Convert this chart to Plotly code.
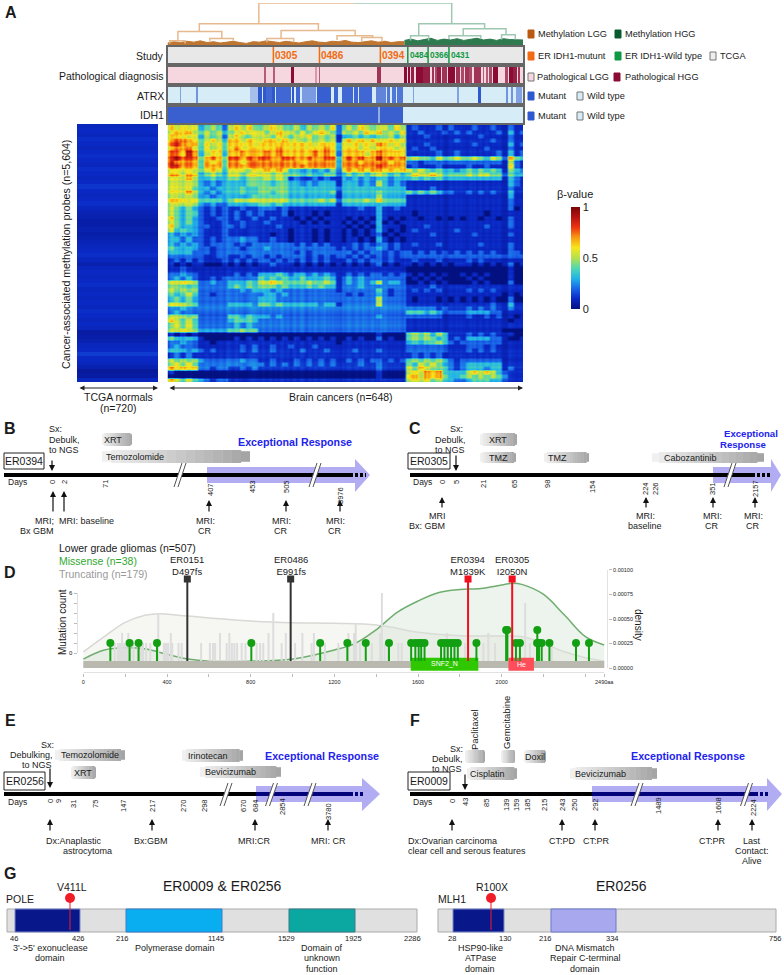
import numpy as np
import plotly.graph_objects as go

W, H = 784, 975
FONT = "Liberation Sans"

# ---------------- DATA ----------------
# Panel A heat map: beta value tenths per block.
brain_rows = """
65656 3 454 2 56564 45654 45354546 2 454654 5 5465 1211121 211 121121 1 2 11
56665 4 545 3 45655 54565 54545654 2 545465 6 4546 1121112 121 211112 1 3 12
66656 3 545 2 56545 55465 45564545 1 334343 4 4535 1112111 111 112111 1 2 11
67766 4 565 3 66565 56656 55454545 1 565656 5 5656 1111111 121 111121 1 2 11
78767 4 656 4 66665 66666 66665666 3 656565 7 6565 1112111 111 121111 1 3 12
67776 4 656 4 67666 66676 66666676 3 666565 6 6656 1211211 111 111211 1 2 11
77687 3 566 3 66766 67676 66667676 2 666656 7 6666 1111121 121 111112 1 3 12
78777 4 676 4 77676 77667 76676677 3 676766 8 6767 4544354 454 454354 2 6 43
87777 4 767 4 77677 77777 77677777 3 777677 7 7677 2212222 222 222222 1 5 21
88777 4 777 4 77777 77777 77777777 3 777777 8 7777 1211121 111 211211 1 6 21
55555 4 565 3 55545 56565 33232324 2 565656 6 5656 5454343 323 434343 1 4 32
66566 3 454 3 55455 55454 44343344 2 343434 5 4343 4655654 444 545544 2 4 33
55565 3 343 3 44344 45454 12112121 1 323232 3 3233 3434343 333 333333 1 3 21
55555 3 232 3 33344 44344 33232333 1 333232 5 3232 1111111 111 111111 1 3 21
55554 3 323 3 33433 44444 33333333 2 333333 3 3333 1111211 111 111111 1 2 11
55565 3 232 3 33433 44344 33333334 1 333333 4 3333 4343432 211 212121 1 3 11
55555 3 323 3 33334 44444 33333333 1 333333 5 3333 1111111 111 111111 1 3 11
66656 4 444 3 45555 55555 44444545 2 444454 6 4444 1111111 111 111111 1 2 11
55555 3 232 2 33333 44343 33333333 1 333333 3 3333 1111111 111 111111 1 2 11
54343 2 121 2 11211 22212 11111111 1 111211 3 1121 1111111 111 111111 1 2 01
54344 2 121 2 12121 21112 01110101 1 111111 3 1111 1011111 111 111011 1 1 11
64343 2 112 2 12112 11211 10101011 1 101010 3 1010 1101101 010 110110 1 2 11
54343 2 111 2 11211 12111 11010101 1 010101 3 0101 1111111 111 111111 1 2 11
64333 2 211 2 21211 11121 11111111 1 101010 3 1110 1112111 111 111211 1 2 11
53433 2 111 2 11111 11111 01110101 1 010101 3 1010 1211111 121 111111 1 1 11
32323 2 111 2 11111 11011 01110101 1 010101 2 0101 1111211 111 121111 1 2 11
33232 2 121 2 22322 11211 01110101 1 011010 3 1010 1111111 111 111111 1 1 11
32323 2 122 2 21212 22222 21212121 1 112121 2 2121 1211121 111 112111 1 2 11
43333 2 212 2 22122 23222 22222222 1 212122 3 2121 1111111 111 111111 1 2 11
33332 2 212 2 22222 22222 21212222 2 221212 2 1212 2121212 121 212121 1 2 21
22222 2 112 2 11212 21212 22212121 2 212121 2 1212 2222222 222 222222 2 2 22
12121 2 111 2 12121 22121 21212121 1 121212 2 1211 1211121 111 212111 1 1 11
10101 1 000 1 01010 11211 10101010 1 010101 2 0101 1010101 011 101010 1 2 01
11211 1 111 1 11111 11111 11111111 1 111111 1 1111 0000000 000 000000 0 1 00
22322 1 111 1 12121 33343 23323232 1 121212 2 1212 1010101 001 010100 0 1 00
23232 1 121 2 22222 43434 33433343 1 232322 2 2222 0101010 000 101000 0 1 00
55655 2 232 2 33343 55654 44454454 1 232323 5 2332 0010101 000 010100 0 2 00
44434 2 222 2 34343 44434 33343433 1 222322 2 2222 1111211 111 111111 1 1 11
54545 2 222 2 22323 33232 22222222 1 222222 4 2122 1212121 111 212121 1 1 11
43454 2 212 2 22222 23323 22222222 2 212122 3 2122 1111111 111 111111 0 1 01
34343 2 222 2 22222 33322 22222222 2 222222 5 2222 1011101 010 101010 0 2 00
55544 2 222 2 33332 44343 33333233 1 222222 5 2222 1111111 111 111121 1 3 11
22322 2 222 2 22222 22222 22222222 2 222222 2 2222 2222212 111 212121 1 2 11
23222 2 222 2 22222 22222 22222222 2 222222 2 2222 4443432 222 333322 1 1 11
55545 2 222 2 44343 33232 22222222 2 222222 3 2222 2222221 111 211212 1 1 01
65454 2 222 2 34443 22222 22222222 2 222222 2 2222 1111111 111 111111 1 0 11
45454 2 222 2 23232 22222 22222222 2 222222 2 2222 1111111 111 111111 1 1 11
55655 3 333 3 44544 22222 22222222 2 222222 2 2222 1111111 111 111111 0 0 00
10101 0 000 0 00000 00000 00000000 0 000000 1 0000 4545354 111 212121 1 1 00
43333 1 000 0 01010 10101 01010101 0 010100 2 0100 4545434 121 333322 1 0 01
22322 1 101 1 11111 11111 11111111 0 111111 1 1111 3434454 212 222222 1 1 11
23222 1 111 1 11212 11211 21112111 1 111111 1 1111 2222222 111 222121 1 1 11
33323 2 121 1 11212 11211 11211121 1 112111 2 1111 2222222 111 212121 1 1 11
12121 1 111 1 11111 11111 11111111 1 111111 1 1111 1212121 111 111111 1 1 11
54545 3 222 2 22322 11211 12121212 1 121212 2 1212 4545454 212 222222 1 1 11
45454 2 222 2 22222 21212 12121212 1 111211 2 1111 4354543 212 333333 1 1 11
65656 2 212 2 11212 11111 11111111 1 111111 2 1111 5465444 212 333233 1 2 11
10000 0 000 0 00000 00000 00000000 0 000000 1 0000 5657674 333 565653 2 1 11
00000 0 000 0 00000 00000 00000000 0 000000 1 0000 6757675 334 545454 3 1 11
65454 3 212 2 11111 11111 11111111 1 111111 1 1111 5656454 322 344433 2 1 11
"""
col_streaks = ("14434" "23134" "34212" "22123" "21321" "23214" "43234" "23212" "34443" "32432" "34233" "24423"
               "31342" "24421" "33243" "23342" "32322" "21323" "43234" "32433" "23423" "24343" "23232" "32132"
               "232123223123232132" "00" "2322323221232312" "31" "232132232" "000" "332" "21222")
row_streaks = ("1222321232" "2123224312" "2143142312" "2324211222" "1221212122" "2122121212"
               "2212221123" "1102122122" "2321212212" "3432102122" "3212312212" "1123232123" "342322231")
normal_rows = [.09, .1, .09, .11, .1, .09, .1, .11, .1, .09, .11, .1, .09, .1, .12, .1, .09, .1, .11, .09,
               .08, .07, .06, .06, .07, .06, .07, .08, .09, .1, .11, .09, .07, .09, .1, .09, .1, .11, .09, .1,
               .09, .1, .09, .11, .1, .09, .1, .09, .05, .06, .07, .09, .1, .13, .1, .09, .07, .04, .05, .09]

# samples (0-648): annotation tracks as (first, last, level)
path_runs = [(175, 178, .6), (192, 194, .6), (225, 229, 1), (269, 271, .3), (275, 277, .6), (382, 388, .8),
             (431, 435, 1), (437, 441, 1), (444, 448, .9), (453, 464, 1), (465, 476, .9), (481, 484, .8),
             (487, 490, .7), (491, 496, .9), (499, 507, .8), (510, 522, 1), (525, 531, .8), (534, 538, .7),
             (541, 547, .8), (549, 553, .7), (557, 570, .8), (574, 576, .6), (580, 582, .6), (586, 590, .7),
             (593, 601, 1), (615, 618, .7), (622, 627, 1), (629, 635, .9), (638, 641, .8)]
atrx_runs = [(23, 24, .5), (52, 54, .6), (150, 163, .3), (164, 171, 1), (173, 178, 1), (180, 189, .9), (191, 195, 1),
             (198, 203, .9), (205, 224, .9), (227, 230, 1), (233, 240, .9), (244, 269, .55), (272, 297, .95),
             (303, 309, .9), (318, 336, .9), (339, 345, .9), (348, 354, .9), (356, 371, .9), (379, 397, .7),
             (400, 404, .8), (409, 415, .8), (418, 427, .8), (446, 448, .5), (527, 529, .5), (566, 569, 1),
             (616, 618, .6), (625, 627, .6), (635, 641, .5), (642, 644, .5)]
idh_runs = [(0, 382, 1), (386, 428, 1), (383, 385, .45)]
study_ids = ["0305", "0486", "0394", "0484", "0366", "0431"]
study_pos = [193, 277, 388, 438, 475, 513]
study_cols = ["#f26a12", "#f26a12", "#f26a12", "#0e9a45", "#0e9a45", "#0e9a45"]
study_size = [10, 10, 10, 8.2, 8.2, 8.2]

# Dendrogram links: left, right, top, left foot, right foot
dend_lgg = [(58, 275, .52, .336, .36), (19, 99, .336, .12, .176), (77, 120, .176, .12, .12), (4, 32, .12, .06, .06),
            (207, 342, .36, .176, .24), (181, 230, .176, .09, .09), (309, 374, .24, .14, .2), (354, 391, .2, .1, .1)]
dend_hgg = [(458, 578, .52, .24, .4), (443, 476, .24, .13, .13), (539, 617, .4, .24, .28), (513, 571, .24, .16, .16),
            (609, 634, .26, .15, .15)]
dend_low_lgg = [.07, .1, .08, .11, .09, .12, .08, .1, .07, .09, .11, .08, .06, .1, .09, .12, .1, .08, .11, .09, .07,
                .1, .12, .09, .08, .11, .1, .13, .09, .08, .1, .12, .09, .11, .08, .1]
dend_low_hgg = [.13, .16, .12, .15, .18, .13, .16, .14, .17, .13, .15, .18, .14, .16, .13, .17, .15, .14]

# Panel D
trunc_aa = [150, 165, 175, 185, 195, 205, 215, 225, 240, 260, 275, 285, 300, 320, 358, 385, 395, 405, 418, 425, 455, 470,
            563, 605, 620, 630, 653, 685, 698, 710, 722, 735, 757, 775, 828, 845, 860, 885, 908, 948, 968, 1012, 1047,
            1091, 1102, 1155, 1219, 1267, 1294, 1302, 1323, 1379, 1419, 1427, 1440, 1455, 1506, 1522, 1737, 1825, 1912,
            1936, 1968, 2024, 2112, 2135, 2239]
trunc_n = [1, 1, 1, 2, 1, 1, 2, 1, 1, 1, 1, 1, 1, 1, 4, 1, 1, 1, 2, 1, 1, 1,
           1, 1, 1, 1, 2, 1, 2, 1, 1, 1, 1, 1, 1, 1, 1, 2, 4, 1, 2, 1, 2,
           1, 2, 1, 1, 2, 2, 3, 1, 1, 2, 6, 1, 1, 1, 1, 2, 1, 1,
           2, 1, 1, 5, 1, 1]
miss_aa = [129, 221, 264, 352, 803, 1132, 1262, 1350, 1461, 1567, 1587, 1603, 1615, 1631, 1710, 1726, 1742, 1758, 1774,
           1790, 1879, 2021, 2027, 2068, 2087, 2169, 2170, 2178, 2191, 2228, 2355, 2417]
miss_n = [1, 1, 1, 1, 1, 1, 1, 1, 1, 1, 1, 1, 1, 1, 1, 1, 1, 1, 1, 1, 1, 2.3, 2.3, 1, 1, 1, 2.3, 1, 1, 1, 1, 1]
black_aa, black_names = [497, 991], ["ER0151<br>D497fs", "ER0486<br>E991fs"]
red_aa, red_names = [1839, 2050], ["ER0394<br>M1839K", "ER0305<br>I2050N"]
dens_aa_t = [0, 100, 200, 300, 360, 500, 800, 1000, 1200, 1400, 1500, 1600, 1800, 2000, 2100, 2200, 2300, 2400, 2490]
dens_t = [.000166, .00032, .000466, .00054, .000554, .00053, .00048, .000463, .000456, .00044, .000405, .000364, .00033,
          .000327, .00032, .000252, .000166, .000105, .00007]
dens_aa_m = [0, 100, 200, 300, 400, 500, 600, 800, 1000, 1200, 1300, 1400, 1500, 1600, 1700, 1800, 1900, 2000, 2050, 2100,
             2200, 2300, 2400, 2490]
dens_m = [.000092, .000184, .000207, .000194, .00014, .000092, .00007, .00007, .000092, .000184, .000252, .00039, .000568,
          .000684, .00077, .0008, .00081, .000847, .000864, .00085, .00075, .00054, .00032, .000235]
protein_len = 2490
domains = [("SNF2_N", 1565, 1888, "#2fc800"), ("He", 2032, 2154, "#ff4d5a")]

# Timelines
days_b = ["0", "2", "71", "407", "453", "505", "3976"]
days_c = ["0", "5", "21", "65", "98", "154", "224", "226", "351", "2157"]
days_e = ["0", "9", "31", "75", "147", "217", "270", "298", "670", "684", "2854", "3780"]
days_f = ["0", "43", "85", "139", "159", "185", "215", "243", "250", "292", "1489", "1608", "2224"]

# ---------------- SCAFFOLD ----------------
def fx(x): return x / W
def fy(y): return 1 - y / H

fig = go.Figure()
annots, shapes = [], []
axes = {}

def add_axes(i, x0, x1, y0, y1, xr, yr, **kw):
    base = dict(visible=False, fixedrange=True)
    axes[f"xaxis{i}"] = {**base, "domain": [fx(x0), fx(x1)], "range": xr, "anchor": f"y{i}", **kw}
    axes[f"yaxis{i}"] = {**base, "domain": [fy(y1), fy(y0)], "range": yr, "anchor": f"x{i}", **kw}

def T(x, y, text, size=10, color="#1a1a1a", anchor="center", angle=0, bold=False, panel=None):
    if bold:
        text = f"<b>{text}</b>"
    d = dict(x=x, y=y, text=text, showarrow=False, xanchor=anchor, yanchor="middle", textangle=angle, borderpad=0,
             font=dict(family=FONT, size=size, color=color))
    if panel is None:
        d.update(xref="paper", yref="paper", x=fx(x), y=fy(y))
    else:
        d.update(xref=f"x{panel}", yref=f"y{panel}")
    annots.append(d)

def arrow(panel, x, y_from, y_to):
    annots.append(dict(x=x, y=y_to, ax=x, ay=y_from, xref=f"x{panel}", yref=f"y{panel}", axref=f"x{panel}",
                       ayref=f"y{panel}", text="", showarrow=True, arrowhead=2, arrowsize=1, arrowwidth=1.2,
                       arrowcolor="#111", standoff=0))

def grad_box(panel, x0, x1, y0, y1, n=16):
    for i in range(n):
        a, b = x0 + (x1 - x0) * i / n, x0 + (x1 - x0) * (i + 1) / n + .4
        g = int(240 - (240 - 165) * i / (n - 1))
        inset = 1.2 if i in (0, n - 1) else 0
        shapes.append(dict(type="rect", xref=f"x{panel}", yref=f"y{panel}", x0=a, x1=min(b, x1), y0=y0 + inset,
                           y1=y1 - inset, fillcolor=f"rgb({g},{g},{g})", line=dict(width=0)))

def break_mark(panel, xc, y0, y1):
    dx = 4
    shapes.append(dict(type="path", xref=f"x{panel}", yref=f"y{panel}",
                       path=f"M{xc-dx-2},{y1} L{xc+dx-2},{y0} L{xc+dx+2},{y0} L{xc-dx+2},{y1} Z",
                       fillcolor="white", line=dict(width=0)))
    for off in (-2, 2):
        shapes.append(dict(type="line", xref=f"x{panel}", yref=f"y{panel}", x0=xc - dx + off, x1=xc + dx + off, y0=y1,
                           y1=y0, line=dict(color="#555", width=1)))

def rect(panel, x0, x1, y0, y1, fill, line="#888", lw=1):
    shapes.append(dict(type="rect", xref=f"x{panel}", yref=f"y{panel}", x0=x0, x1=x1, y0=y0, y1=y1, fillcolor=fill,
                       line=dict(color=line, width=lw)))

def swatch(x, y, fill, line=None, size=6):
    shapes.append(dict(type="rect", xref="paper", yref="paper", x0=fx(x), x1=fx(x + size), y0=fy(y + 4), y1=fy(y - 4),
                       fillcolor=fill, line=dict(color=line or fill, width=1)))

def timeline(panel, xs, xe, xd, y, ax0, axb, axt, color_in="#000"):
    ys = [y - 8, y - 8, y - 16, y, y + 17, y + 8, y + 8, y - 8]
    xsa = [ax0, axb, axb, axt, axb, axb, ax0, ax0]
    fig.add_trace(go.Scatter(x=xsa, y=ys, mode="lines", fill="toself", fillcolor="#b2acf3", line=dict(width=0),
                             xaxis=f"x{panel}", yaxis=f"y{panel}", hoverinfo="skip"))
    fig.add_trace(go.Scatter(x=[xs, ax0], y=[y, y], mode="lines", line=dict(color="#000", width=4),
                             xaxis=f"x{panel}", yaxis=f"y{panel}", hoverinfo="skip"))
    fig.add_trace(go.Scatter(x=[ax0, xe], y=[y, y], mode="lines", line=dict(color=color_in, width=4),
                             xaxis=f"x{panel}", yaxis=f"y{panel}", hoverinfo="skip"))
    fig.add_trace(go.Scatter(x=[xe, xd], y=[y, y], mode="lines", line=dict(color=color_in, width=4, dash="3px,2px"),
                             xaxis=f"x{panel}", yaxis=f"y{panel}", hoverinfo="skip"))

def tick_labels(panel, labels, xs, ys, size=7.5):
    for lab, x, y in zip(labels, xs, ys):
        T(x, y, lab, size=size, angle=-90, panel=panel)

BLUE_ER = "#2222ee"
ER_SIZE = 10.7
CS = [[0, "#03107f"], [.1, "#0a28c4"], [.2, "#1a66e8"], [.3, "#22b4e6"], [.4, "#52d8b0"], [.5, "#b4e04e"],
      [.6, "#f6e61c"], [.7, "#f89c12"], [.8, "#ec3410"], [.9, "#b81210"], [1, "#7a0606"]]

# ---------------- PANEL A ----------------
blocks = np.array([[int(c) / 10 for c in r.replace(" ", "")] for r in brain_rows.strip().splitlines()])
col_d = np.array([int(c) - 2 for c in col_streaks])
row_d = np.array([int(c) - 2 for c in row_streaks])
nr, nc = len(row_d), len(col_d)
base = blocks[(np.arange(nr) * blocks.shape[0] // nr)][:, (np.arange(nc) * blocks.shape[1] // nc)]
matrix = np.clip(base + (.008 + .05 * base) * (col_d[None, :] + row_d[:, None]), 0, 1)
add_axes(1, 77, 158, 124, 382, [0, 720], [5604, 0])
add_axes(2, 167.5, 523, 124, 382, [0, 648], [5604, 0])
fig.add_trace(go.Heatmap(z=[[v, v] for v in normal_rows], x0=180, dx=360, y0=5604 / 120, dy=5604 / 60, zmin=0, zmax=1,
                         colorscale=CS, showscale=False, xaxis="x", yaxis="y", hoverinfo="skip"))
fig.add_trace(go.Heatmap(z=matrix, x0=648 / nc / 2, dx=648 / nc, y0=5604 / nr / 2, dy=5604 / nr, zmin=0, zmax=1,
                         colorscale=CS, xaxis="x2", yaxis="y2", hoverinfo="skip", zsmooth="best",
                         colorbar=dict(x=fx(571), xanchor="left", y=fy(309), yanchor="bottom", lenmode="pixels", len=102,
                                       thicknessmode="pixels", thickness=9, outlinewidth=0, tickvals=[0, .5, 1],
                                       ticktext=["0", "0.5", "1"], ticks="", ypad=0, xpad=0,
                                       tickfont=dict(family=FONT, size=11, color="#222"))))
T(575, 194, "β-value", size=11)
T(66, 255, "Cancer-associated methylation probes (n=5,604)", size=10.6, angle=-90)
T(118, 397, "TCGA normals", size=10.5)
T(118, 408, "(n=720)", size=10.5)
T(341, 397, "Brain cancers (n=648)", size=10.5)
for a, b in ((78, 158), (168, 523)):
    annots.append(dict(x=fx(b), y=fy(388), ax=-(b - a), ay=0, xref="paper", yref="paper", axref="pixel", ayref="pixel",
                       text="", showarrow=True, arrowhead=2, startarrowhead=2, arrowside="end+start", arrowsize=1,
                       arrowwidth=1, arrowcolor="#222", standoff=0, startstandoff=0))
T(11, 12, "A", size=16, bold=True)

# dendrogram
add_axes(3, 167.5, 523, 3, 46, [0, 648], [0, 1])
def link_xy(links):
    xs, ys = [], []
    for l, r, top, fl, fr in links:
        xs += [l, l, r, r, None]
        ys += [fl, top, top, fr, None]
    return xs, ys
xo, yo = link_xy(dend_lgg)
xg, yg = link_xy(dend_hgg)
bx = [12 * i for i in range(len(dend_low_lgg) + 1)]
fig.add_trace(go.Scatter(x=bx, y=dend_low_lgg + dend_low_lgg[-1:], mode="lines", fill="tozeroy", fillcolor="#bf7630",
                         line=dict(color="#bf7630", width=1), xaxis="x3", yaxis="y3", hoverinfo="skip"))
gx = [432 + 12 * i for i in range(len(dend_low_hgg) + 1)]
fig.add_trace(go.Scatter(x=gx, y=dend_low_hgg + dend_low_hgg[-1:], mode="lines", fill="tozeroy", fillcolor="#2f7a4f",
                         line=dict(color="#2f7a4f", width=1), xaxis="x3", yaxis="y3", hoverinfo="skip"))
fig.add_trace(go.Scatter(x=xo, y=yo, mode="lines", line=dict(color="#e7b98e", width=1.5), xaxis="x3", yaxis="y3",
                         hoverinfo="skip"))
fig.add_trace(go.Scatter(x=xg, y=yg, mode="lines", line=dict(color="#9fc8b3", width=1.5), xaxis="x3", yaxis="y3",
                         hoverinfo="skip"))
fig.add_trace(go.Scatter(x=[166.5, 166.5, 340], y=[.52, 1, 1], mode="lines", line=dict(color="#e7b98e", width=1.5),
                         xaxis="x3", yaxis="y3", hoverinfo="skip"))
fig.add_trace(go.Scatter(x=[340, 518, 518], y=[1, 1, .52], mode="lines", line=dict(color="#9fc8b3", width=1.5),
                         xaxis="x3", yaxis="y3", hoverinfo="skip"))

# annotation tracks
def track(runs):
    z = np.zeros(648)
    for a, b, lv in runs:
        z[a:b + 1] = lv
    return [z.tolist()]
frame = dict(visible=True, showline=True, mirror=True, linecolor="#666", linewidth=1.5, showticklabels=False, ticks="",
             showgrid=False, zeroline=False)
strips = [(4, 47, 63), (5, 67, 83), (6, 87, 103), (7, 107, 123)]
for i, y0, y1 in strips:
    add_axes(i, 167.5, 523, y0, y1, [0, 648], [0, 1], **frame)
fig.add_trace(go.Heatmap(z=[[0, 0]], x0=162, dx=324, y0=.5, dy=1, zmin=0, zmax=1, colorscale=[[0, "#e8e8e8"], [1, "#e8e8e8"]],
                         showscale=False, xaxis="x4", yaxis="y4", hoverinfo="skip"))
for sid, p, c, s in zip(study_ids, study_pos, study_cols, study_size):
    fig.add_trace(go.Scatter(x=[p, p], y=[0, 1], mode="lines", line=dict(color=c, width=1.5), xaxis="x4", yaxis="y4",
                             hoverinfo="skip"))
    annots.append(dict(x=p, y=.5, xref="x4", yref="y4", text=f"<b>{sid}</b>", showarrow=False, xanchor="left", xshift=1,
                       borderpad=0, font=dict(family=FONT, size=s, color=c)))
for ax_i, runs, cs in ((5, path_runs, [[0, "#f6d6df"], [1, "#8a0c34"]]),
                       (6, atrx_runs, [[0, "#d6ecf6"], [1, "#2f58cf"]])):
    fig.add_trace(go.Heatmap(z=track(runs), x0=.5, dx=1, y0=.5, dy=1, zmin=0, zmax=1, colorscale=cs, showscale=False,
                             xaxis=f"x{ax_i}", yaxis=f"y{ax_i}", hoverinfo="skip"))
fig.add_trace(go.Heatmap(z=track(idh_runs), x0=.5, dx=1, y0=.5, dy=1, zmin=0, zmax=1,
                         colorscale=[[0, "#d6ecf6"], [1, "#3a5fcf"]], showscale=False, xaxis="x7", yaxis="y7",
                         hoverinfo="skip"))
for y, t in ((56, "Study"), (76, "Pathological diagnosis"), (96, "ATRX"), (115, "IDH1")):
    T(165, y, t, size=10.5, anchor="right")
swatch(528, 34, "#b85a10"); T(536.5, 34, "Methylation LGG", size=9.2, anchor="left")
swatch(615, 34, "#0a5a30"); T(623.5, 34, "Methylation HGG", size=9.2, anchor="left")
swatch(528, 56, "#f26a12"); T(536.5, 56, "ER IDH1-mutunt", size=9.2, anchor="left")
swatch(615, 56, "#0e9a45"); T(623.5, 56, "ER IDH1-Wild type", size=9.2, anchor="left")
swatch(710, 56, "#eeeeee", "#777"); T(719, 56, "TCGA", size=9.2, anchor="left")
swatch(528, 77, "#f6d6df", "#777"); T(536, 77, "Pathological LGG", size=9.2, anchor="left")
swatch(614, 77, "#8a0c34"); T(623.5, 77, "Pathological HGG", size=9.2, anchor="left")
for y in (96, 116):
    swatch(528, y, "#2f58cf"); T(536.5, y, "Mutant", size=9.2, anchor="left")
    swatch(577, y, "#d6ecf6", "#777"); T(586, y, "Wild type", size=9.2, anchor="left")

# ---------------- PANEL B ----------------
add_axes(10, 0, 392, 415, 535, [0, 392], [535, 415])
timeline(10, 4, 350, 366, 475, 207, 355, 370)
T(10, 429, "B", size=16, bold=True)
for y, t, x in ((429, "Sx:", 55), (439.5, "Debulk,", 64), (449.5, "to NGS", 64)):
    T(x, y, t, size=9, panel=10)
rect(10, 4, 44, 453, 469, "white", "#222", 1)
T(24, 461, "ER0394", size=10.5, panel=10)
arrow(10, 52, 459, 471)
T(17, 482, "Days", size=8.5, panel=10)
grad_box(10, 102, 132, 433, 446); T(113, 439.5, "XRT", size=9, panel=10)
grad_box(10, 102, 250, 450, 463); T(135, 456.5, "Temozolomide", size=9, panel=10)
T(295, 442, "Exceptional Response", size=ER_SIZE, color=BLUE_ER, bold=True, panel=10)
break_mark(10, 180, 463, 487); break_mark(10, 315, 463, 487)
tick_labels(10, days_b, [52, 64, 105, 210, 252, 286, 340], [482, 482, 484, 490, 487, 487, 496])
for x, y0, y1 in ((53, 513, 491), (64, 513, 491), (209, 513, 500), (286, 513, 500), (340, 513, 500)):
    arrow(10, x, y0, y1)
T(44, 521, "MRI;", size=9, panel=10); T(37, 531, "Bx GBM", size=9, panel=10); T(86, 521, "MRI: baseline", size=9, panel=10)
for x in (205, 281, 335):
    T(x, 521, "MRI:", size=9, panel=10); T(x, 531, "CR", size=9, panel=10)

# ---------------- PANEL C ----------------
add_axes(11, 392, 784, 415, 535, [392, 784], [535, 415])
timeline(11, 410, 752, 772, 475, 713, 771, 781)
T(415, 429, "C", size=16, bold=True)
for y, t, x in ((429, "Sx:", 456), (439.5, "Debulk,", 450), (449.5, "to NGS", 450)):
    T(x, y, t, size=9, panel=11)
rect(11, 408, 450, 453, 469, "white", "#222", 1)
T(429, 461, "ER0305", size=10.5, panel=11)
arrow(11, 456, 454, 471)
T(422, 482, "Days", size=8.5, panel=11)
grad_box(11, 480, 517, 433, 446); T(498, 439.5, "XRT", size=9, panel=11)
grad_box(11, 480, 516, 452, 463); T(498, 457.5, "TMZ", size=9, panel=11)
grad_box(11, 544, 589, 452, 463); T(557, 457.5, "TMZ", size=9, panel=11)
grad_box(11, 652, 764, 452, 463); T(690, 457.5, "Cabozantinib", size=9, panel=11)
T(751, 433, "Exceptional", size=9.6, color=BLUE_ER, bold=True, panel=11)
T(743, 444, "Response", size=9.6, color=BLUE_ER, bold=True, panel=11)
break_mark(11, 730, 463, 487)
tick_labels(11, days_c, [442, 456, 483, 514, 547, 592, 645, 655, 712, 755], [482, 482, 484, 484, 484, 487, 489, 489, 489, 489])
for x in (442, 646, 713, 755):
    arrow(11, x, 509, 497)
T(437, 516, "MRI", size=9, panel=11); T(427, 526, "Bx: GBM", size=9, panel=11)
T(645, 516, "MRI:", size=9, panel=11); T(645, 526, "baseline", size=9, panel=11)
for x in (712, 753):
    T(x, 516, "MRI:", size=9, panel=11); T(x, 526, "CR", size=9, panel=11)

# ---------------- PANEL D ----------------
# density sits on the base y axis so that the count lollipops (overlay) draw above it
add_axes(8, 77.5, 608, 566, 673, [-28, 2508], [-.00005, .00104])
axes["yaxis8"].update(visible=True, side="right", showline=False, showgrid=False, zeroline=False,
                      tickvals=[0, .00025, .0005, .00075, .001],
                      ticktext=["0.00000", "0.00025", "0.00050", "0.00075", "0.00100"],
                      ticks="outside", ticklen=3, tickcolor="#bbb", tickfont=dict(family=FONT, size=5.5, color="#222"))
axes["xaxis8"].update(visible=True, showline=False, showgrid=False, zeroline=False,
                      tickvals=[0, 200, 400, 600, 800, 1000, 1200, 1400, 1600, 1800, 2000, 2200, 2400, 2490],
                      ticktext=["0", "", "400", "", "800", "", "1200", "", "1600", "", "2000", "", "", "2490aa"],
                      ticks="outside", ticklen=3, tickcolor="#bbb", tickfont=dict(family=FONT, size=5.5, color="#222"))
axes["yaxis9"] = dict(domain=axes["yaxis8"]["domain"], overlaying="y8", side="left", anchor="x8", fixedrange=True,
                      range=[-2, 8.7], showgrid=False, zeroline=False, tickvals=[0, 1, 2, 3, 4, 5, 6],
                      ticktext=["0", "", "", "", "", "", "6"], ticks="outside", ticklen=3, tickcolor="#bbb",
                      tickfont=dict(family=FONT, size=6, color="#222"))
fig.add_trace(go.Scatter(x=dens_aa_t, y=dens_t, mode="lines", fill="tozeroy", fillcolor="rgba(244,244,240,.8)",
                         line=dict(color="#d8d8d4", width=1.5, shape="spline"), xaxis="x8", yaxis="y8", hoverinfo="skip"))
fig.add_trace(go.Scatter(x=dens_aa_m, y=dens_m, mode="lines", fill="tozeroy", fillcolor="rgba(215,228,215,.45)",
                         line=dict(color="#6fae6f", width=1.5, shape="spline"), xaxis="x8", yaxis="y8", hoverinfo="skip"))
def stems(xs, ns, base=-.8):
    x, y = [], []
    for a, n in zip(xs, ns):
        x += [a, a, None]; y += [base, n, None]
    return x, y
sx, sy = stems(trunc_aa, trunc_n)
fig.add_trace(go.Scatter(x=sx, y=sy, mode="lines", line=dict(color="#dddddd", width=2), xaxis="x8", yaxis="y9", hoverinfo="skip"))
fig.add_trace(go.Scatter(x=[0, protein_len, protein_len, 0, 0], y=[-.8, -.8, -1.5, -1.5, -.8], mode="lines", fill="toself",
                         fillcolor="#b9b9b0", line=dict(width=0), xaxis="x8", yaxis="y9", hoverinfo="skip"))
for name, a, b, c in domains:
    fig.add_trace(go.Scatter(x=[a, b, b, a, a], y=[-.47, -.47, -1.77, -1.77, -.47], mode="lines", fill="toself", fillcolor=c,
                             line=dict(width=0), xaxis="x8", yaxis="y9", hoverinfo="skip"))
    annots.append(dict(x=(a + b) / 2, y=-1.12, xref="x8", yref="y9", text=name, showarrow=False,
                       font=dict(family=FONT, size=7, color="white")))
sx, sy = stems(miss_aa, miss_n)
fig.add_trace(go.Scatter(x=sx, y=sy, mode="lines", line=dict(color="#12a012", width=2), xaxis="x8", yaxis="y9", hoverinfo="skip"))
fig.add_trace(go.Scatter(x=miss_aa, y=miss_n, mode="markers", marker=dict(color="#12a012", size=8), xaxis="x8", yaxis="y9",
                         hoverinfo="skip"))
for xs, names, col in ((black_aa, black_names, "#333333"), (red_aa, red_names, "#f01020")):
    for a, name in zip(xs, names):
        fig.add_trace(go.Scatter(x=[a, a], y=[-.8, 7.4], mode="lines", line=dict(color=col, width=2), xaxis="x8", yaxis="y9",
                                 hoverinfo="skip"))
        fig.add_trace(go.Scatter(x=[a], y=[7.4], mode="markers", marker=dict(color=col, size=7, symbol="square"), xaxis="x8",
                                 yaxis="y9", hoverinfo="skip"))
        annots.append(dict(x=a, y=7.55, xref="x8", yref="y9", text=name, showarrow=False, yanchor="bottom", borderpad=0,
                           font=dict(family=FONT, size=9.5, color="#1a1a1a")))
for s in (dict(x0=0, x1=protein_len, y0=-2, y1=-2, xref="x8", yref="y9"),
          dict(x0=-28, x1=-28, y0=0, y1=6, xref="x8", yref="y9"),
          dict(x0=2508, x1=2508, y0=0, y1=.001, xref="x8", yref="y8")):
    shapes.append(dict(type="line", line=dict(color="#c4c4c4", width=1), **s))
T(10, 572, "D", size=16, bold=True)
T(58, 548, "Lower grade gliomas (n=507)", size=10.5, anchor="left")
T(58, 561, "Missense (n=38)", size=10.5, color="#2fa82f", anchor="left")
T(58, 574, "Truncating (n=179)", size=10.5, color="#999999", anchor="left")
T(62, 622, "Mutation count", size=10, angle=-90)
T(639, 625, "density", size=10, angle=90)

# ---------------- PANEL E ----------------
add_axes(12, 0, 392, 695, 865, [0, 392], [865, 695])
timeline(12, 4, 350, 365, 794, 256, 362, 380, "#04047a")
T(10, 720, "E", size=16, bold=True)
for y, t, x in ((745, "Sx:", 47), (755, "Debulking,", 31), (765, "to NGS", 37)):
    T(x, y, t, size=9, panel=12)
rect(12, 4, 45, 772, 790, "white", "#222", 1)
T(24.5, 781, "ER0256", size=10.5, panel=12)
arrow(12, 50, 767, 788)
T(17, 802, "Days", size=8.5, panel=12)
grad_box(12, 55, 125, 749, 761); T(90, 755, "Temozolomide", size=9, panel=12)
grad_box(12, 71, 96, 766, 779); T(83, 772.5, "XRT", size=9, panel=12)
grad_box(12, 182, 243, 749, 762); T(208, 755.5, "Irinotecan", size=9, panel=12)
grad_box(12, 200, 281, 766, 778); T(230, 772, "Bevicizumab", size=9, panel=12)
T(322, 756, "Exceptional Response", size=ER_SIZE, color=BLUE_ER, bold=True, panel=12)
for xc in (226, 271.5, 310):
    break_mark(12, xc, 783, 806)
tick_labels(12, days_e, [50, 58, 73, 95, 123, 152, 183, 204, 243, 255, 282, 328],
            [801, 801, 804, 804, 806, 806, 806, 806, 806, 806, 807, 812])
for x in (50, 152, 255, 328):
    arrow(12, x, 832, 819)
T(74, 841, "Dx:Anaplastic", size=9, panel=12); T(87, 851, "astrocytoma", size=9, panel=12)
T(151, 841, "Bx:GBM", size=9, panel=12); T(254, 841, "MRI:CR", size=9, panel=12); T(328, 841, "MRI: CR", size=9, panel=12)

# ---------------- PANEL F ----------------
add_axes(13, 392, 784, 695, 865, [392, 784], [865, 695])
timeline(13, 410, 755, 770, 794, 592, 767, 782, "#04047a")
T(415, 720, "F", size=16, bold=True)
for y, t, x in ((749, "Sx:", 456), (759, "Debulk,", 447), (769, "to NGS", 447)):
    T(x, y, t, size=9, panel=13)
T(474, 730, "Paclitaxel", size=9.5, angle=-90, panel=13)
T(506, 723, "Gemcitabine", size=9.5, angle=-90, panel=13)
rect(13, 408, 450, 772, 790, "white", "#222", 1)
T(429, 781, "ER0009", size=10.5, panel=13)
arrow(13, 465, 773, 790)
T(422, 802, "Days", size=8.5, panel=13)
grad_box(13, 465, 485, 750, 763)
grad_box(13, 501, 515, 750, 763)
grad_box(13, 524, 546, 750, 763); T(535, 756.5, "Doxil", size=9, panel=13)
grad_box(13, 467, 517, 767, 780); T(487, 773.5, "Cisplatin", size=9, panel=13)
grad_box(13, 570, 657, 767, 780); T(600, 773.5, "Bevicizumab", size=9, panel=13)
T(688, 756, "Exceptional Response", size=ER_SIZE, color=BLUE_ER, bold=True, panel=13)
break_mark(13, 637, 783, 806); break_mark(13, 746.5, 783, 806)
tick_labels(13, days_f, [452, 465, 486, 506, 516, 527, 544, 562, 574, 595, 658, 718, 753],
            [801, 802, 803, 805, 805, 805, 805, 805, 805, 805, 806, 806, 808])
for x in (452, 562, 595, 718, 752):
    arrow(13, x, 832, 819)
T(407, 841, "Dx:Ovarian carcinoma", size=9, anchor="left", panel=13)
T(407, 851, "clear cell and serous features", size=9, anchor="left", panel=13)
T(562, 841, "CT:PD", size=9, panel=13); T(596, 841, "CT:PR", size=9, panel=13); T(712, 841, "CT:PR", size=9, panel=13)
for y, t in ((841, "Last"), (851, "Contact:"), (861, "Alive")):
    T(752, y, t, size=9, panel=13)

# ---------------- PANEL G ----------------
add_axes(14, 0, 784, 865, 975, [0, 784], [975, 865])
T(10, 873, "G", size=16, bold=True)
rect(14, 7, 417, 909, 932, "#e0e0e0", "#aaa")
rect(14, 15, 80, 909, 932, "#08188a", "#7a88c8")
rect(14, 126, 222, 909, 932, "#08aef0", "#3a7ac8")
rect(14, 289, 355, 909, 932, "#0aa8a0", "#3a7a8a")
rect(14, 438, 776, 909, 932, "#e0e0e0", "#aaa")
rect(14, 453, 504, 909, 932, "#08188a", "#7a88c8")
rect(14, 551, 616, 909, 932, "#a8a8ee", "#6a7ac8")
for hx in (70, 491):
    shapes.append(dict(type="line", xref="x14", yref="y14", x0=hx, x1=hx, y0=898, y1=930, line=dict(color="#f01c28", width=1)))
    fig.add_trace(go.Scatter(x=[hx], y=[898], mode="markers", marker=dict(color="#f01c28", size=10), xaxis="x14", yaxis="y14",
                             hoverinfo="skip"))
T(20, 899, "POLE", size=10.5, panel=14); T(222, 886, "ER0009 &amp; ER0256", size=14, panel=14); T(72, 887, "V411L", size=10.5, panel=14)
T(452, 899, "MLH1", size=10.5, panel=14); T(621, 886, "ER0256", size=14, panel=14); T(492, 887, "R100X", size=10.5, panel=14)
for lab, x in (("46", 14), ("426", 78), ("216", 122), ("1145", 216), ("1529", 286), ("1925", 353), ("2286", 412),
               ("28", 452), ("130", 505), ("216", 545), ("334", 612), ("756", 775)):
    T(x, 938, lab, size=7.5, panel=14)
for x, y, t in ((50, 948, "3'->5' exonuclease"), (50, 958, "domain"), (175, 948, "Polymerase domain"), (322, 948, "Domain of"),
                (322, 958, "unknown"), (322, 968.5, "function"), (480, 948, "HSP90-like"), (480, 958, "ATPase"), (480, 968.5, "domain"),
                (585, 948, "DNA Mismatch"), (585, 958, "Repair C-terminal"), (585, 968.5, "domain")):
    T(x, y, t, size=9, panel=14)

axes["xaxis"] = axes.pop("xaxis1")
axes["yaxis"] = axes.pop("yaxis1")
axes["xaxis"]["anchor"] = "y"
axes["yaxis"]["anchor"] = "x"
fig.update_layout(width=W, height=H, margin=dict(l=0, r=0, t=0, b=0, autoexpand=False), paper_bgcolor="white", plot_bgcolor="white",
                  showlegend=False, annotations=annots, shapes=shapes, **axes)
fig.write_html("out.html", config={"displayModeBar": False},
               post_script="document.body.style.margin='0';document.documentElement.style.overflow='hidden';")
